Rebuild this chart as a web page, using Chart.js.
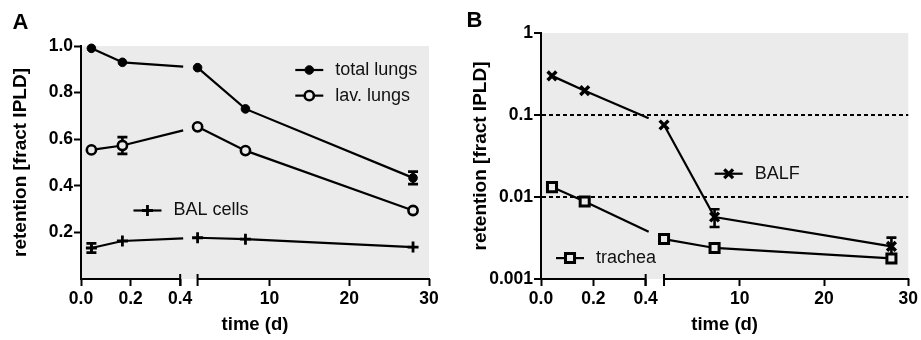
<!DOCTYPE html>
<html>
<head>
<meta charset="utf-8">
<title>Retention</title>
<script src="https://cdn.jsdelivr.net/npm/chart.js@4.4.1/dist/chart.umd.min.js"></script>
<style>
  html, body { margin: 0; padding: 0; background: #fff; }
  #wrap { position: relative; width: 921px; height: 340px; }
  #chartA { position: absolute; left: 0; top: 0; }
  #chartB { position: absolute; left: 460px; top: 0; }
</style>
</head>
<body>
<div id="wrap">
  <canvas id="chartA" width="460" height="340"></canvas>
  <canvas id="chartB" width="461" height="340"></canvas>
</div>
<script>
// sampling times in days: 1 h, 4 h, 1 d, 7 d, 28 d
const timeDays = [0.042, 0.167, 1, 7, 28];
const xTicks = [0, 0.2, 0.4, 10, 20, 30];

// panel A (linear)
const yTicksA = [0.2, 0.4, 0.6, 0.8, 1.0];
const totalLungs = [0.99, 0.93, 0.907, 0.73, 0.434];
const totalLungsErr = [0, 0, 0, 0, 0.027];
const lavLungs = [0.554, 0.573, 0.653, 0.551, 0.294];
const lavLungsErr = [0, 0.036, 0, 0, 0];
const balCells = [0.133, 0.163, 0.177, 0.171, 0.137];
const balCellsErr = [0.02, 0, 0, 0, 0];

// panel B (log)
const yTicksB = [0.001, 0.01, 0.1, 1];
const balf = [0.30, 0.198, 0.0755, 0.0057, 0.0025];
const balfErr = [0, 0, 0, 0.0014, 0.0007];
const trachea = [0.0132, 0.0088, 0.00307, 0.00239, 0.00178];
const tracheaErr = [0, 0, 0, 0, 0.0002];

const FONT = '"Liberation Sans", Arial, Helvetica, sans-serif';
const PLOT_BG = '#ebebeb';

// broken time axis: 0..0.4 on the left part, 1..30 on the right part
const BREAK_LO = 0.4, BREAK_HI = 1, X_MAX = 30;
const FRAC_LEFT = 0.285, FRAC_GAP = 0.05;

class BrokenTimeScale extends Chart.LinearScale {
    buildTicks() {
        return xTicks.map(v => ({ value: v }));
    }
    valueToFrac(v) {
        if (v <= BREAK_LO) return v / BREAK_LO * FRAC_LEFT;
        if (v >= BREAK_HI) {
            return FRAC_LEFT + FRAC_GAP + (v - BREAK_HI) / (X_MAX - BREAK_HI) * (1 - FRAC_LEFT - FRAC_GAP);
        }
        return FRAC_LEFT + (v - BREAK_LO) / (BREAK_HI - BREAK_LO) * FRAC_GAP;
    }
    getPixelForValue(v) {
        return this.left + this.valueToFrac(v) * this.width;
    }
    getValueForPixel(p) {
        const f = (p - this.left) / this.width;
        if (f <= FRAC_LEFT) return f / FRAC_LEFT * BREAK_LO;
        if (f >= FRAC_LEFT + FRAC_GAP) {
            return BREAK_HI + (f - FRAC_LEFT - FRAC_GAP) / (1 - FRAC_LEFT - FRAC_GAP) * (X_MAX - BREAK_HI);
        }
        return BREAK_LO + (f - FRAC_LEFT) / FRAC_GAP * (BREAK_HI - BREAK_LO);
    }
}
BrokenTimeScale.id = 'brokenTime';
BrokenTimeScale.defaults = Chart.LinearScale.defaults;
Chart.register(BrokenTimeScale);

// hide the part of a line that runs through the axis break
function breakGap(ctx) {
    const sc = ctx.chart.scales.x;
    const lo = sc.getPixelForValue(BREAK_LO);
    const hi = sc.getPixelForValue(BREAK_HI);
    const p0 = ctx.p0, p1 = ctx.p1;
    if (p0.x < lo && p1.x >= hi - 0.5) {
        const dx = p1.x - p0.x, dy = p1.y - p0.y;
        const len = Math.hypot(dx, dy);
        const shown = (lo + 3 - p0.x) * len / dx;
        return [shown, len * 2];
    }
    return undefined;
}

function series(label, values, errors, style) {
    return Object.assign({
        label: label,
        data: values.map((v, i) => ({ x: timeDays[i], y: v })),
        errors: errors,
        borderColor: '#000',
        borderWidth: 2.2,
        pointBorderColor: '#000',
        showLine: true,
        fill: false,
        tension: 0,
        clip: false,
        segment: { borderDash: breakGap }
    }, style);
}

const bgPlugin = {
    id: 'plotBg',
    beforeDraw(chart) {
        const { ctx, chartArea: a } = chart;
        ctx.save();
        ctx.fillStyle = PLOT_BG;
        ctx.fillRect(a.left, a.top, a.right - a.left, a.bottom - a.top);
        ctx.restore();
    }
};

const errorBarPlugin = {
    id: 'errorBars',
    beforeDatasetsDraw(chart) {
        const { ctx, scales: { x, y } } = chart;
        ctx.save();
        ctx.strokeStyle = '#000';
        ctx.lineWidth = 2.6;
        chart.data.datasets.forEach(ds => {
            if (!ds.errors) return;
            ds.data.forEach((pt, i) => {
                const e = ds.errors[i];
                if (!e) return;
                const px = x.getPixelForValue(pt.x);
                const top = y.getPixelForValue(pt.y + e);
                const bot = y.getPixelForValue(pt.y - e);
                ctx.beginPath();
                ctx.moveTo(px, top); ctx.lineTo(px, bot);
                ctx.moveTo(px - 5, top); ctx.lineTo(px + 5, top);
                ctx.moveTo(px - 5, bot); ctx.lineTo(px + 5, bot);
                ctx.stroke();
            });
        });
        ctx.restore();
    }
};

const brokenAxisPlugin = {
    id: 'brokenAxis',
    afterDraw(chart) {
        const { ctx, chartArea: a, scales: { x } } = chart;
        const lo = x.getPixelForValue(BREAK_LO);
        const hi = x.getPixelForValue(BREAK_HI);
        const y0 = a.bottom;
        ctx.save();
        ctx.strokeStyle = '#000';
        ctx.lineWidth = 2;
        ctx.beginPath();
        ctx.moveTo(a.left - 1, y0); ctx.lineTo(lo + 1, y0);
        ctx.moveTo(hi - 1, y0); ctx.lineTo(a.right + 1, y0);
        ctx.moveTo(lo, y0 - 5); ctx.lineTo(lo, y0 + 7);
        ctx.moveTo(hi, y0 - 5); ctx.lineTo(hi, y0 + 7);
        ctx.stroke();
        ctx.restore();
    }
};

const insetLegendPlugin = {
    id: 'insetLegend',
    afterDatasetsDraw(chart, args, opts) {
        const { ctx, chartArea: a } = chart;
        ctx.save();
        (opts.items || []).forEach(item => {
            const ds = chart.data.datasets[item.dataset];
            const cx = a.left + item.fx * (a.right - a.left);
            const cy = a.top + item.fy * (a.bottom - a.top);
            ctx.setLineDash([]);
            ctx.strokeStyle = '#000';
            ctx.lineWidth = 2.2;
            ctx.beginPath();
            ctx.moveTo(cx - 14, cy); ctx.lineTo(cx + 14, cy);
            ctx.stroke();
            ctx.fillStyle = ds.pointBackgroundColor;
            ctx.lineWidth = ds.pointBorderWidth;
            Chart.helpers.drawPoint(ctx, {
                pointStyle: ds.pointStyle,
                radius: ds.pointRadius,
                borderWidth: ds.pointBorderWidth,
                rotation: 0
            }, cx, cy);
            ctx.fillStyle = '#111';
            ctx.font = '18px ' + FONT;
            ctx.textAlign = 'left';
            ctx.textBaseline = 'middle';
            ctx.fillText(ds.label, cx + 26, cy);
        });
        ctx.restore();
    }
};

const panelLetterPlugin = {
    id: 'panelLetter',
    afterDraw(chart, args, opts) {
        const { ctx } = chart;
        ctx.save();
        ctx.fillStyle = '#000';
        ctx.font = 'bold 22px ' + FONT;
        ctx.textAlign = 'center';
        ctx.textBaseline = 'middle';
        ctx.fillText(opts.text, opts.x, opts.y);
        ctx.restore();
    }
};

const tickFont = { family: FONT, size: 17.5, weight: 'bold' };

function xScale() {
    return {
        type: 'brokenTime',
        min: 0,
        max: X_MAX,
        afterFit: s => { s.height = 61; },
        border: { display: false },
        grid: { drawOnChartArea: false, drawTicks: true, tickLength: 7, tickWidth: 2, tickColor: '#000', color: '#000' },
        ticks: {
            autoSkip: false, maxRotation: 0, padding: 3, color: '#000', font: tickFont,
            callback: v => v < 1 ? v.toFixed(1) : String(v)
        },
        title: {
            display: true, text: 'time (d)', color: '#000',
            font: { family: FONT, size: 18.5, weight: 'bold' }, padding: { top: 0, bottom: 4 }
        }
    };
}

const yTitle = {
    display: true, text: 'retention [fract IPLD]', color: '#000',
    font: { family: FONT, size: 19, weight: 'bold' }, padding: { top: 9, bottom: 0 }
};

function baseOptions(padding, yScale, legendItems, letter) {
    return {
        responsive: false,
        animation: false,
        events: [],
        layout: { padding: padding },
        scales: { x: xScale(), y: yScale },
        plugins: {
            legend: { display: false },
            tooltip: { enabled: false },
            insetLegend: { items: legendItems },
            panelLetter: letter
        }
    };
}

const plugins = [bgPlugin, errorBarPlugin, brokenAxisPlugin, insetLegendPlugin, panelLetterPlugin];

new Chart(document.getElementById('chartA'), {
    type: 'scatter',
    data: {
        datasets: [
            series('total lungs', totalLungs, totalLungsErr, {
                pointStyle: 'circle', pointRadius: 4.3, pointBackgroundColor: '#000', pointBorderWidth: 1
            }),
            series('lav. lungs', lavLungs, lavLungsErr, {
                pointStyle: 'circle', pointRadius: 4.6, pointBackgroundColor: PLOT_BG, pointBorderWidth: 2.6
            }),
            series('BAL cells', balCells, balCellsErr, {
                pointStyle: 'cross', pointRadius: 5.5, pointBackgroundColor: '#000', pointBorderWidth: 2.8
            })
        ]
    },
    options: baseOptions(
        { top: 46, right: 31, left: 0, bottom: 0 },
        {
            type: 'linear',
            min: 0,
            max: 1,
            afterFit: s => { s.width = 81; },
            afterBuildTicks: s => { s.ticks = yTicksA.map(v => ({ value: v })); },
            border: { display: true, color: '#000', width: 2 },
            grid: { drawOnChartArea: false, drawTicks: true, tickLength: 7, tickWidth: 2, tickColor: '#000', color: '#000' },
            ticks: { padding: 1, color: '#000', font: tickFont, callback: v => v.toFixed(1) },
            title: yTitle
        },
        [
            { dataset: 0, fx: 0.656, fy: 0.103 },
            { dataset: 1, fx: 0.656, fy: 0.213 },
            { dataset: 2, fx: 0.191, fy: 0.706 }
        ],
        { text: 'A', x: 20.5, y: 22.5 }
    ),
    plugins: plugins
});

new Chart(document.getElementById('chartB'), {
    type: 'scatter',
    data: {
        datasets: [
            series('BALF', balf, balfErr, {
                pointStyle: 'crossRot', pointRadius: 6.2, pointBackgroundColor: '#000', pointBorderWidth: 3.4
            }),
            series('trachea', trachea, tracheaErr, {
                pointStyle: 'rect', pointRadius: 6.4, pointBackgroundColor: PLOT_BG, pointBorderWidth: 3
            })
        ]
    },
    options: baseOptions(
        { top: 33, right: 11, left: 0, bottom: 0 },
        {
            type: 'logarithmic',
            min: 0.001,
            max: 1,
            afterFit: s => { s.width = 81; },
            afterBuildTicks: s => { s.ticks = yTicksB.map(v => ({ value: v })); },
            border: { display: true, color: '#000', width: 2, dash: [4, 3] },
            grid: {
                drawOnChartArea: true, drawTicks: true, tickLength: 7, tickWidth: 2, tickColor: '#000', lineWidth: 2,
                color: c => (c.tick && (c.tick.value === 0.1 || c.tick.value === 0.01)) ? '#000' : 'rgba(0,0,0,0)'
            },
            ticks: { padding: 1, color: '#000', font: tickFont, callback: v => String(v) },
            title: yTitle
        },
        [
            { dataset: 0, fx: 0.511, fy: 0.572 },
            { dataset: 1, fx: 0.079, fy: 0.915 }
        ],
        { text: 'B', x: 14.5, y: 20.5 }
    ),
    plugins: plugins
});
</script>
</body>
</html>
